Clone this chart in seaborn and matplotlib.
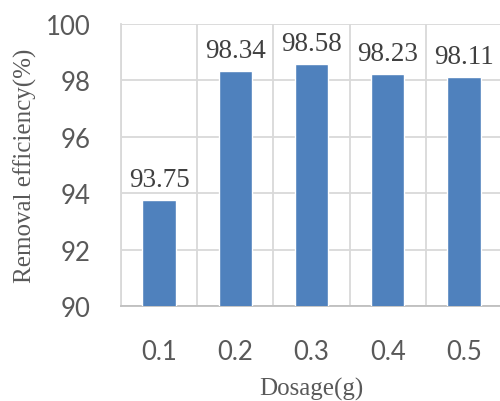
import matplotlib
matplotlib.use("Agg")
import matplotlib.pyplot as plt
import seaborn as sns
import pandas as pd
from matplotlib.ticker import MultipleLocator

# Dosage (g) vs removal efficiency (%)
dosage = ["0.1", "0.2", "0.3", "0.4", "0.5"]
efficiency = [93.75, 98.34, 98.58, 98.23, 98.11]
y_ticks = [90, 92, 94, 96, 98, 100]

df = pd.DataFrame({"dosage": dosage, "efficiency": efficiency})

sns.set_style("white")
grey_text = "#595959"
grid_col = "#D9D9D9"

fig = plt.figure(figsize=(5.0, 4.02), dpi=100)
ax = fig.add_axes([121 / 500, 1 - 307 / 402, 381 / 500, 282 / 402])

sns.barplot(data=df, x="dosage", y="efficiency", color="#4F81BD",
            saturation=1, width=0.44, ax=ax, zorder=3)

ax.set_ylim(90, 100)
ax.set_xlim(-0.5, 4.5)
ax.set_yticks(y_ticks)
ax.xaxis.set_minor_locator(MultipleLocator(1, offset=0.5))
ax.grid(axis="y", which="major", color=grid_col, lw=1.3, zorder=0)
ax.grid(axis="x", which="minor", color=grid_col, lw=1.3, zorder=0)
ax.set_axisbelow(True)

for side in ["top", "right"]:
    ax.spines[side].set_visible(False)
ax.spines["left"].set_color(grid_col)
ax.spines["left"].set_linewidth(1.3)
ax.spines["bottom"].set_color("#BFBFBF")
ax.spines["bottom"].set_linewidth(1.3)

ax.tick_params(axis="both", which="both", length=0)
ax.tick_params(axis="y", pad=22)
ax.tick_params(axis="x", pad=24)
for lab in ax.get_xticklabels() + ax.get_yticklabels():
    lab.set_fontfamily("Lato")
    lab.set_fontsize(18.5)
    lab.set_color(grey_text)

# Value labels above each bar
for i, v in enumerate(efficiency):
    ax.annotate(f"{v:.2f}", xy=(i, v), xytext=(0, 10), textcoords="offset points",
                ha="center", va="baseline", fontsize=19.5,
                family="Liberation Serif", color="#404040")

ax.set_xlabel("Dosage(g)", family="Liberation Serif", fontsize=18,
              color=grey_text, labelpad=9)
ax.set_ylabel("Removal efficiency(%)", family="Liberation Serif", fontsize=18,
              color=grey_text, labelpad=6)

fig.savefig("out.png", dpi=100)
